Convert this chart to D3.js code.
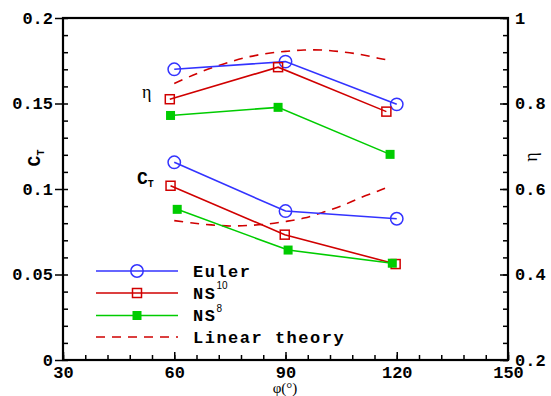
<!DOCTYPE html>
<html><head><meta charset="utf-8">
<script src="https://cdn.jsdelivr.net/npm/d3@7"></script>
<style>
body{margin:0;background:#fff;}
svg{display:block;}
.tk text{font-family:"Liberation Mono","Courier New",monospace;font-weight:bold;font-size:17px;fill:#000;}
</style></head>
<body>
<svg id="c" width="551" height="396"></svg>
<script>
// ---- data ----
const phiTicks = [30, 60, 90, 120, 150];
const ctTicks = [0, 0.05, 0.1, 0.15, 0.2];
const ctTickLabels = ["0", "0.05", "0.1", "0.15", "0.2"];
const etaTicks = [0.2, 0.4, 0.6, 0.8, 1];
const etaTickLabels = ["0.2", "0.4", "0.6", "0.8", "1"];

// efficiency (right axis)
const eulerEtaPhi = [60, 90, 120];
const eulerEta = [0.880, 0.898, 0.798];
const ns10EtaPhi = [58.8, 88, 117.2];
const ns10Eta = [0.810, 0.885, 0.781];
const ns8EtaPhi = [59, 88, 118.2];
const ns8Eta = [0.772, 0.791, 0.681];

// thrust coefficient (left axis)
const eulerCtPhi = [60, 90, 120];
const eulerCt = [0.1156, 0.0871, 0.0826];
const ns10CtPhi = [59, 89.8, 119.7];
const ns10Ct = [0.1019, 0.0733, 0.0561];
const ns8CtPhi = [60.8, 90.7, 118.8];
const ns8Ct = [0.0881, 0.0643, 0.0566];

// linear theory
const linPhi = [60, 65, 70, 75, 80, 85, 90, 95, 100, 105, 110, 115, 118];
const linEta = [0.847, 0.866, 0.883, 0.897, 0.909, 0.917, 0.922, 0.925, 0.925, 0.921, 0.915, 0.906, 0.901];
const linCt = [0.0815, 0.0801, 0.0790, 0.0784, 0.0787, 0.0795, 0.0810, 0.0830, 0.0863, 0.0900, 0.0947, 0.0988, 0.1015];

const legendNames = ["Euler", "NS", "NS", "Linear theory"];
const legendSups = ["", "10", "8", ""];

// ---- drawing ----
const blue = "#3333ff", red = "#d00000", green = "#00cc00";
const svg = d3.select("#c");
const L = 63, R = 508, T = 18, B = 360;
const x = d3.scaleLinear().domain([30, 150]).range([L, R]);
const yL = d3.scaleLinear().domain([0, 0.2]).range([B, T]);
const yR = d3.scaleLinear().domain([0.2, 1]).range([B, T]);

function styleAxis(g){ g.select(".domain").remove(); g.selectAll("line").attr("stroke","#000").attr("stroke-width",1.5); g.attr("class","tk"); }

// minor ticks
svg.append("g").attr("transform",`translate(0,${B})`)
  .call(d3.axisBottom(x).tickValues(d3.range(30,151,6)).tickFormat("").tickSize(-5)).call(styleAxis);
svg.append("g").attr("transform",`translate(${L},0)`)
  .call(d3.axisLeft(yL).tickValues(d3.range(0,0.2001,0.01)).tickFormat("").tickSize(-5)).call(styleAxis);
svg.append("g").attr("transform",`translate(${R},0)`)
  .call(d3.axisRight(yR).tickValues(d3.range(0.2,1.0001,0.04)).tickFormat("").tickSize(-5)).call(styleAxis);

// major ticks
svg.append("g").attr("transform",`translate(0,${B})`)
  .call(d3.axisBottom(x).tickValues(phiTicks).tickFormat(d3.format("d")).tickSize(-8).tickPadding(6)).call(styleAxis);
svg.append("g").attr("transform",`translate(${L},0)`)
  .call(d3.axisLeft(yL).tickValues(ctTicks).tickFormat((d,i)=>ctTickLabels[i]).tickSize(8).tickPadding(2)).call(styleAxis);
svg.append("g").attr("transform",`translate(${R},0)`)
  .call(d3.axisRight(yR).tickValues(etaTicks).tickFormat((d,i)=>etaTickLabels[i]).tickSize(-8).tickPadding(7)).call(styleAxis);

// frame
svg.append("rect").attr("x",L).attr("y",T).attr("width",R-L).attr("height",B-T)
  .attr("fill","none").attr("stroke","#000").attr("stroke-width",2.2);

// series
function series(phis, vals, ys, color, marker, dashed){
  const pts = phis.map((p,i)=>[x(p), ys(vals[i])]);
  const line = dashed ? d3.line().curve(d3.curveCatmullRom) : d3.line();
  svg.append("path").attr("d", line(pts)).attr("fill","none").attr("stroke",color)
    .attr("stroke-width",1.6).attr("stroke-dasharray", dashed ? "9,7" : null);
  if (!dashed) pts.forEach(p=>drawMarker(p[0],p[1],color,marker));
}
function drawMarker(cx, cy, color, marker){
  if (marker === "circle") svg.append("circle").attr("cx",cx).attr("cy",cy).attr("r",6.2)
    .attr("fill","none").attr("stroke",color).attr("stroke-width",1.5);
  else if (marker === "square") svg.append("rect").attr("x",cx-4.5).attr("y",cy-4.5).attr("width",9).attr("height",9)
    .attr("fill","none").attr("stroke",color).attr("stroke-width",1.5);
  else svg.append("rect").attr("x",cx-4.5).attr("y",cy-4.5).attr("width",9).attr("height",9).attr("fill",color);
}
series(linPhi, linEta, yR, red, null, true);
series(linPhi, linCt, yL, red, null, true);
series(eulerEtaPhi, eulerEta, yR, blue, "circle");
series(ns10EtaPhi, ns10Eta, yR, red, "square");
series(ns8EtaPhi, ns8Eta, yR, green, "fsquare");
series(eulerCtPhi, eulerCt, yL, blue, "circle");
series(ns10CtPhi, ns10Ct, yL, red, "square");
series(ns8CtPhi, ns8Ct, yL, green, "fsquare");

// legend
const legColors = [blue, red, green, red];
const legMarkers = ["circle", "square", "fsquare", null];
const legY = [271, 293, 315.5, 337];
legendNames.forEach((name,i)=>{
  const ly = legY[i];
  svg.append("line").attr("x1",96).attr("x2",178).attr("y1",ly).attr("y2",ly)
    .attr("stroke",legColors[i]).attr("stroke-width",1.6).attr("stroke-dasharray", i===3 ? "9,7" : null);
  if (legMarkers[i]) drawMarker(137, ly, legColors[i], legMarkers[i]);
  const t = svg.append("text").attr("x",193).attr("y",ly+5.5)
    .style("font-family","'Liberation Mono','Courier New',monospace").style("font-weight","bold")
    .style("font-size","17px").style("letter-spacing","1.5px").text(name);
  if (legendSups[i]) {
    svg.append("text").attr("x",193 + name.length*11.7).attr("y",ly-4)
      .style("font-family","'Liberation Sans',Arial,sans-serif").style("font-size","10px").text(legendSups[i]);
  }
});

// axis titles
const ct = svg.append("text").attr("transform","translate(40,158) rotate(-90)").attr("text-anchor","middle")
  .style("font-family","'Liberation Mono',monospace").style("font-weight","bold").style("font-size","18px");
ct.append("tspan").text("C");
ct.append("tspan").attr("dy",4).style("font-size","10px").text("T");

svg.append("text").attr("transform","translate(537,157) rotate(-90)").attr("text-anchor","middle")
  .style("font-family","'Liberation Serif','Times New Roman',serif").style("font-size","18px").text("η");

svg.append("text").attr("x",285).attr("y",393).attr("text-anchor","middle")
  .style("font-family","'Liberation Serif','Times New Roman',serif").style("font-size","15px").text("φ(°)");

// annotations
svg.append("text").attr("x",142).attr("y",98)
  .style("font-family","'Liberation Serif','Times New Roman',serif").style("font-size","18px").text("η");
const ca = svg.append("text").attr("x",137).attr("y",184)
  .style("font-family","'Liberation Mono',monospace").style("font-weight","bold").style("font-size","18px");
ca.append("tspan").text("C");
ca.append("tspan").attr("dy",3).style("font-size","10px").text("T");
</script>
</body></html>
